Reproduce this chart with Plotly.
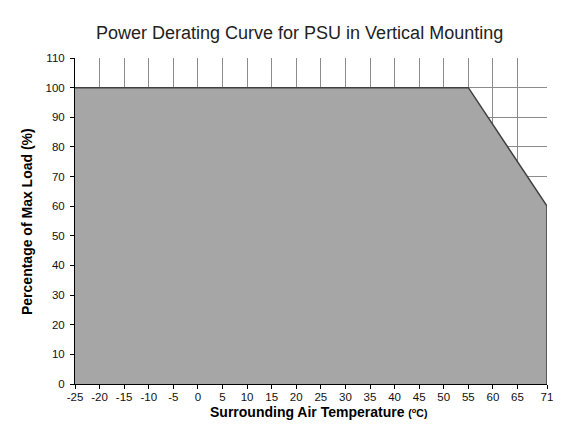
import plotly.graph_objects as go

# Data
temps = [-25, 55, 71, 71]
load_pct = [100, 100, 60, 0]
x_ticks = [-25, -20, -15, -10, -5, 0, 5, 10, 15, 20, 25, 30, 35, 40, 45, 50, 55, 60, 65, 71]
y_ticks = [0, 10, 20, 30, 40, 50, 60, 70, 80, 90, 100, 110]

OFF = 8  # page body margin
W, H = 585 - OFF, 433 - OFF
PL, PR, PT, PB = 75, 547, 58, 384  # target plot box in window pixels
ml, mr, mt, mb = PL - OFF, W - (PR - OFF), PT - OFF, H - (PB - OFF)
pw, ph = W - ml - mr, H - mt - mb


def px(x):
    return (x - OFF - ml) / pw


def py(y):
    return 1 - (y - OFF - mt) / ph


fig = go.Figure()
fig.add_trace(go.Scatter(
    x=temps, y=load_pct, mode="lines", fill="tozeroy",
    fillcolor="#a6a6a6", line=dict(color="#404040", width=1.5),
    hoverinfo="skip", showlegend=False))

font = "Liberation Sans, Arial, sans-serif"
fig.update_layout(
    width=W, height=H,
    margin=dict(l=ml, r=mr, t=mt, b=mb, autoexpand=False),
    paper_bgcolor="white", plot_bgcolor="white",
    font=dict(family=font, size=11.5, color="#111"),
    annotations=[
        dict(text="Power Derating Curve for PSU in Vertical Mounting",
             xref="paper", yref="paper", x=px(299), y=py(33), xanchor="center", yanchor="middle",
             showarrow=False, font=dict(family=font, size=18, color="#222")),
        dict(text="<b>Surrounding Air Temperature </b><span style='font-size:10.5px'><b>(<sup>o</sup>C)</b></span>",
             xref="paper", yref="paper", x=px(318), y=py(412), xanchor="center", yanchor="middle",
             showarrow=False, font=dict(family=font, size=14, color="#000")),
        dict(text="<b>Percentage of Max Load (%)</b>", textangle=-90,
             xref="paper", yref="paper", x=px(27), y=py(222), xanchor="center", yanchor="middle",
             showarrow=False, font=dict(family=font, size=14, color="#000")),
    ],
    xaxis=dict(range=[-25, 71], tickmode="array", tickvals=x_ticks,
               ticktext=[str(v) for v in x_ticks],
               showgrid=True, gridcolor="#8c8c8c", gridwidth=1,
               showline=True, linecolor="#000", linewidth=1,
               ticks="outside", ticklen=4, tickcolor="#000",
               ticklabelstandoff=-2,
               zeroline=False),
    yaxis=dict(range=[0, 110], tickmode="array", tickvals=y_ticks,
               showgrid=True, gridcolor="#8c8c8c", gridwidth=1,
               showline=True, linecolor="#000", linewidth=1,
               ticks="outside", ticklen=4, tickcolor="#000",
               ticklabelstandoff=3,
               zeroline=False),
    shapes=[dict(type="line", xref="paper", yref="paper",
                 x0=px(0), x1=px(585), y0=py(2.5), y1=py(2.5),
                 line=dict(color="#777", width=2))],
)

fig.write_html("out.html")
